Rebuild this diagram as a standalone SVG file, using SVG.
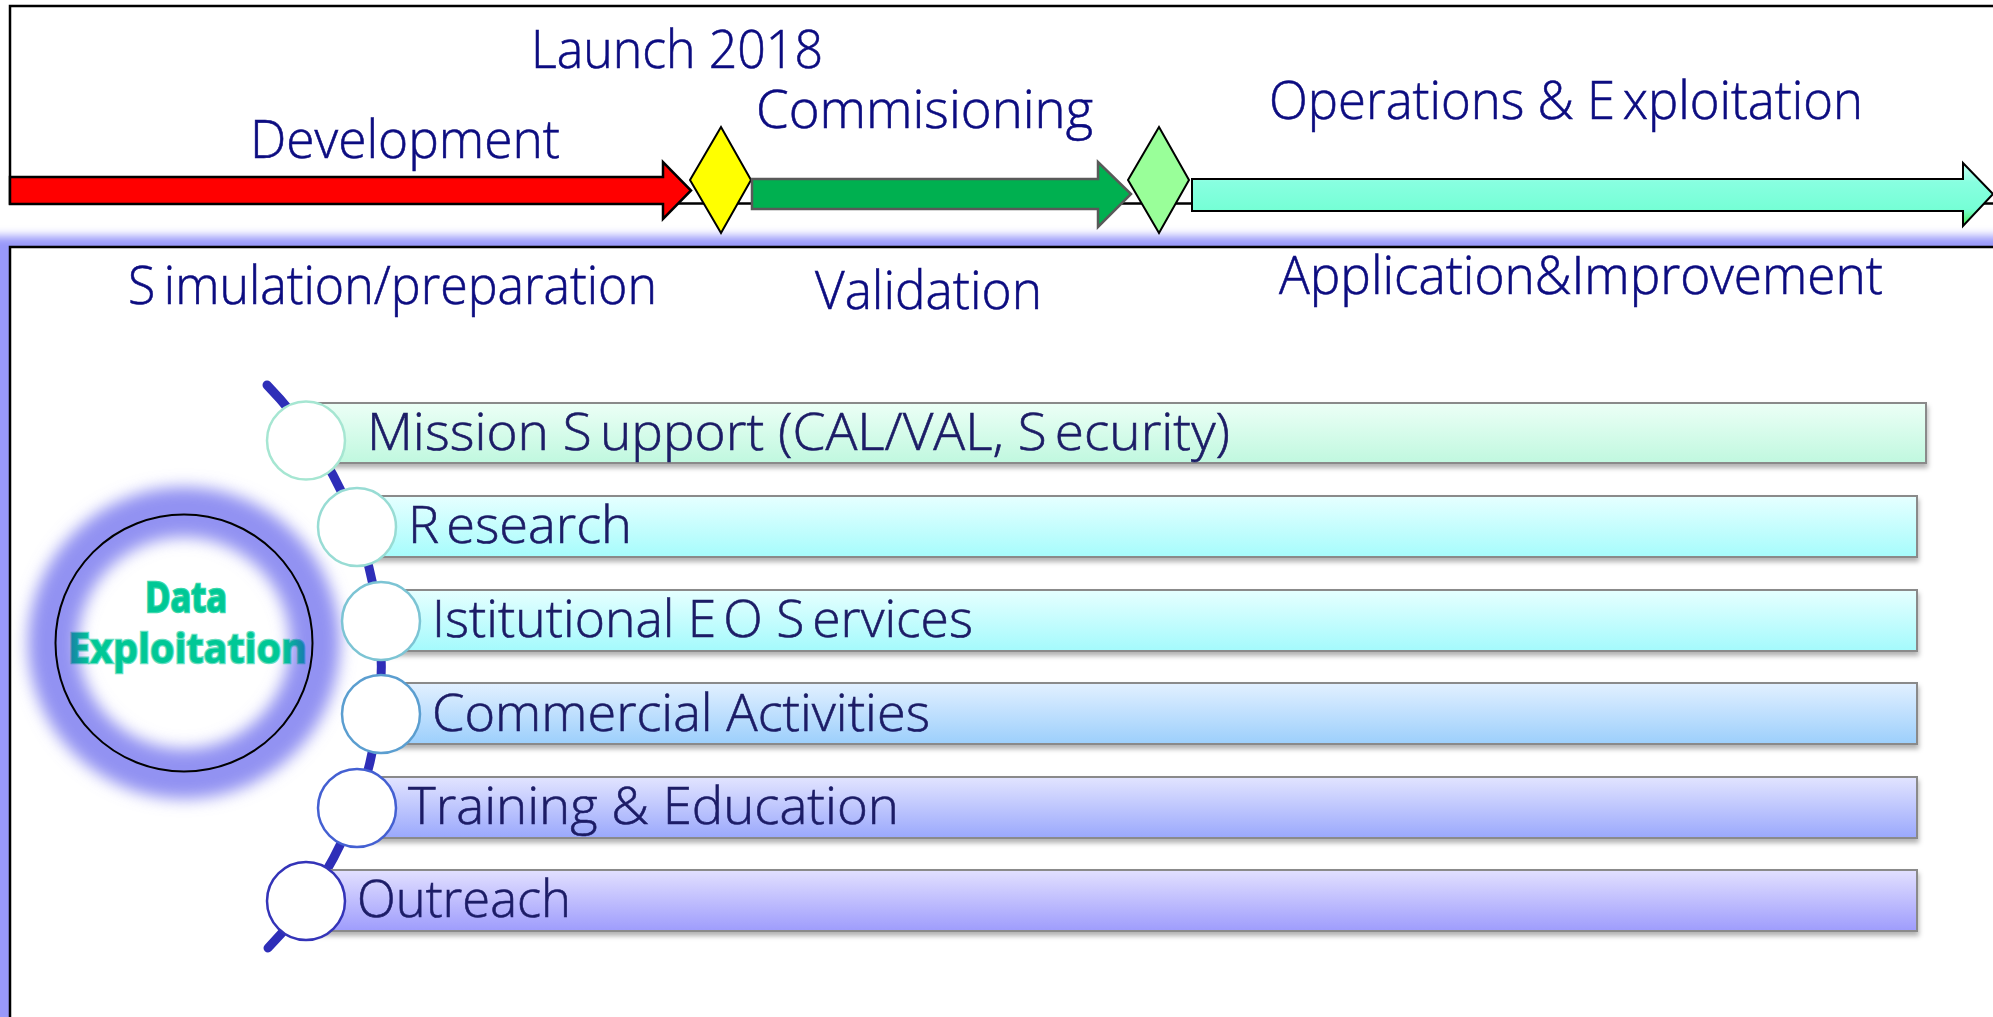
<svg xmlns="http://www.w3.org/2000/svg" width="1993" height="1017" viewBox="0 0 1993 1017">
<style>
.top{font-family:'Open Sans','Noto Sans',sans-serif;font-size:53px;font-weight:300;fill:#0c0c80;stroke:#0c0c80;stroke-width:0.6}
.bar{font-family:'Open Sans','Noto Sans',sans-serif;font-size:52px;font-weight:300;fill:#1c1c66;stroke:#1c1c66;stroke-width:0.6}
.frame{fill:#ffffff;stroke:#000000;stroke-width:2.5}
.barrect{stroke:#8a8a8a;stroke-width:2;filter:url(#shadow)}
.ball{fill:#ffffff;stroke-width:2.5}
.dia{stroke:#000000;stroke-width:2}
.de{font-family:'Open Sans','Noto Sans',sans-serif;font-weight:bold;font-size:41px;paint-order:stroke}
</style>
<defs>
<filter id="glow" x="-10%" y="-10%" width="120%" height="120%"><feGaussianBlur stdDeviation="5"/></filter>
<filter id="ringblur" x="-30%" y="-30%" width="160%" height="160%"><feGaussianBlur stdDeviation="8"/></filter>
<filter id="shadow" x="-2%" y="-20%" width="104%" height="150%"><feDropShadow dx="1" dy="4" stdDeviation="2.5" flood-color="#000000" flood-opacity="0.3"/></filter>
<linearGradient id="cyanArrow" x1="0" y1="163" x2="0" y2="227" gradientUnits="userSpaceOnUse">
<stop offset="0" stop-color="#c8fff4"/><stop offset="0.3" stop-color="#88ffe0"/><stop offset="0.72" stop-color="#76ffd6"/><stop offset="1" stop-color="#44e844"/>
</linearGradient>
<linearGradient id="g1" x1="0" y1="0" x2="0" y2="1"><stop offset="0" stop-color="#ecfff6"/><stop offset="1" stop-color="#c0f8df"/></linearGradient>
<linearGradient id="g2" x1="0" y1="0" x2="0" y2="1"><stop offset="0" stop-color="#e6ffff"/><stop offset="1" stop-color="#a6fcfc"/></linearGradient>
<linearGradient id="g3" x1="0" y1="0" x2="0" y2="1"><stop offset="0" stop-color="#e6ffff"/><stop offset="1" stop-color="#a4fafc"/></linearGradient>
<linearGradient id="g4" x1="0" y1="0" x2="0" y2="1"><stop offset="0" stop-color="#e2f0ff"/><stop offset="1" stop-color="#9ccffc"/></linearGradient>
<linearGradient id="g5" x1="0" y1="0" x2="0" y2="1"><stop offset="0" stop-color="#e2e4ff"/><stop offset="1" stop-color="#9aa8fc"/></linearGradient>
<linearGradient id="g6" x1="0" y1="0" x2="0" y2="1"><stop offset="0" stop-color="#e2e0ff"/><stop offset="1" stop-color="#9e9cfc"/></linearGradient>
<linearGradient id="deFill" x1="0" y1="0" x2="1" y2="0">
<stop offset="0" stop-color="#1a78a8"/><stop offset="0.09" stop-color="#00c896"/><stop offset="0.9" stop-color="#00c896"/><stop offset="1" stop-color="#1a76b0"/>
</linearGradient>
</defs>

<rect x="0" y="0" width="1993" height="1017" fill="#ffffff"/>

<!-- lower panel with glow -->
<g id="lower-panel">
<rect x="-12" y="236" width="2100" height="900" fill="#9898fa" filter="url(#glow)"/>
<rect class="frame" x="10" y="247" width="2010" height="800"/>
</g>

<!-- upper timeline panel -->
<g id="timeline-panel">
<rect class="frame" x="10" y="6" width="2010" height="197.5"/>
</g>

<g id="phase-development">
<path d="M10,177 L663,177 L663,162 L691,190.5 L663,219 L663,204 L10,204 Z" fill="#ff0000" stroke="#000000" stroke-width="2.5"/>
</g>
<g id="milestone-launch">
<path class="dia" d="M721,127 L751,180 L721,233 L690,180 Z" fill="#ffff00"/>
</g>
<g id="phase-commissioning">
<path d="M752,179 L1098,179 L1098,162 L1131,194 L1098,227 L1098,209 L752,209 Z" fill="#00b050" stroke="#595959" stroke-width="2.5"/>
</g>
<g id="milestone-operations">
<path class="dia" d="M1159,127 L1189,180 L1159,233 L1128,180 Z" fill="#99ff99"/>
</g>
<g id="phase-operations">
<path d="M1192,179 L1963,179 L1963,163 L1993,194 L1963,226 L1963,211 L1192,211 Z" fill="url(#cyanArrow)" stroke="#000000" stroke-width="2"/>
</g>

<g id="timeline-labels">
<text class="top" x="531" y="68" textLength="292" lengthAdjust="spacingAndGlyphs">Launch 2018</text>
<text class="top" x="250" y="158" textLength="310" lengthAdjust="spacingAndGlyphs">Development</text>
<text class="top" x="756" y="128" textLength="337" lengthAdjust="spacingAndGlyphs">Commisioning</text>
<text class="top" x="1269" y="119" textLength="594" lengthAdjust="spacingAndGlyphs">Operations &amp; E<tspan dx="8">xploitation</tspan></text>
<text class="top" x="128" y="304" textLength="529" lengthAdjust="spacingAndGlyphs">S<tspan dx="9">imulation/preparation</tspan></text>
<text class="top" x="815" y="309" textLength="227" lengthAdjust="spacingAndGlyphs">Validation</text>
<text class="top" x="1279" y="294" textLength="604" lengthAdjust="spacingAndGlyphs">Application&amp;Improvement</text>
</g>

<!-- central hub -->
<g id="data-exploitation">
<circle cx="184" cy="643" r="131" fill="none" stroke="#9292f2" stroke-width="50" filter="url(#ringblur)"/>
<circle cx="184" cy="643" r="128.5" fill="none" stroke="#000000" stroke-width="2"/>
<text class="de" x="145" y="612" textLength="82" lengthAdjust="spacingAndGlyphs" fill="#00c896" stroke="#3ad8aa" stroke-width="2.5">Data</text>
<text class="de" x="68" y="663" textLength="239" lengthAdjust="spacingAndGlyphs" fill="url(#deFill)" stroke="url(#deFill)" stroke-width="2.5" stroke-opacity="0.6">Exploitation</text>
</g>

<!-- connector -->
<g id="connectors">
<path d="M267,385 A405,405 0 0 1 268,948" fill="none" stroke="#2e2eb8" stroke-width="9" stroke-linecap="round"/>
</g>

<g id="item-mission-support">
<rect class="barrect" x="306" y="403" width="1620" height="60" fill="url(#g1)"/>
<circle class="ball" cx="306" cy="440.5" r="39" stroke="#a6e6d2"/>
<text class="bar" x="367" y="450" textLength="863" lengthAdjust="spacingAndGlyphs">Mission S<tspan dx="8">upport (CAL/VAL, S</tspan><tspan dx="8">ecurity)</tspan></text>
</g>
<g id="item-research">
<rect class="barrect" x="357" y="496" width="1560" height="61" fill="url(#g2)"/>
<circle class="ball" cx="357" cy="527" r="39" stroke="#98dcd4"/>
<text class="bar" x="408" y="543" textLength="224" lengthAdjust="spacingAndGlyphs">R<tspan dx="7">esearch</tspan></text>
</g>
<g id="item-institutional">
<rect class="barrect" x="381" y="590" width="1536" height="61" fill="url(#g3)"/>
<circle class="ball" cx="381" cy="621" r="39" stroke="#7cc4d4"/>
<text class="bar" x="432" y="637" textLength="541" lengthAdjust="spacingAndGlyphs">Istitutional E<tspan dx="7">O S</tspan><tspan dx="8">ervices</tspan></text>
</g>
<g id="item-commercial">
<rect class="barrect" x="381" y="683" width="1536" height="61" fill="url(#g4)"/>
<circle class="ball" cx="381" cy="714" r="39" stroke="#5b9ed0"/>
<text class="bar" x="432" y="731" textLength="498" lengthAdjust="spacingAndGlyphs">Commercial Activities</text>
</g>
<g id="item-training">
<rect class="barrect" x="357" y="777" width="1560" height="61" fill="url(#g5)"/>
<circle class="ball" cx="357" cy="808" r="39" stroke="#4460d2"/>
<text class="bar" x="408" y="824" textLength="491" lengthAdjust="spacingAndGlyphs">Training &amp; Education</text>
</g>
<g id="item-outreach">
<rect class="barrect" x="306" y="870" width="1611" height="61" fill="url(#g6)"/>
<circle class="ball" cx="306" cy="901" r="39" stroke="#3434b8"/>
<text class="bar" x="357" y="917" textLength="214" lengthAdjust="spacingAndGlyphs">Outreach</text>
</g>
</svg>
